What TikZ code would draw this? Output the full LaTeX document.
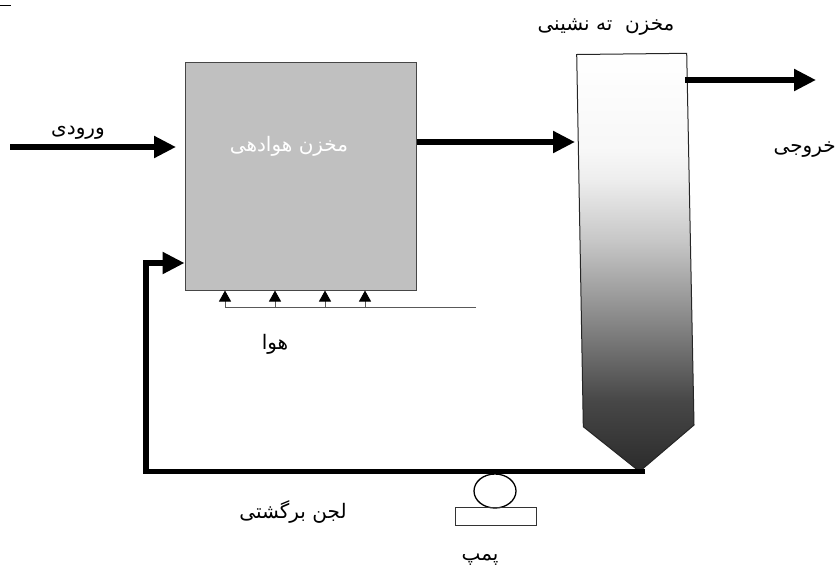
\documentclass[tikz,border=0pt]{standalone}
\usepackage{fontspec}
\usetikzlibrary{arrows.meta,calc,shapes.geometric}
\TeXXeTstate=1
\newfontfamily\arabicfont[Script=Arabic]{DejaVu Sans}
\definecolor{tankgrey}{RGB}{192,192,192}
\definecolor{edgegrey}{RGB}{70,70,70}
\pgfdeclareverticalshading{clarshade}{100bp}{
  rgb(0bp)=(0.17,0.17,0.17);
  rgb(25bp)=(0.17,0.17,0.17);
  rgb(33.5bp)=(0.28,0.28,0.28);
  rgb(43bp)=(0.53,0.53,0.53);
  rgb(52.6bp)=(0.78,0.78,0.78);
  rgb(59.8bp)=(0.93,0.93,0.93);
  rgb(63.4bp)=(0.97,0.97,0.97);
  rgb(75bp)=(1,1,1);
  rgb(100bp)=(1,1,1)}
\tikzset{
  fa/.style={font=\arabicfont\fontsize{20}{23}\selectfont,inner sep=0pt,text=black},
  flow/.style={line width=5.2pt,-{Triangle[length=22pt,width=21pt]}},
  thinflow/.style={line width=1pt,color=black!65,-{Triangle[length=11pt,width=12pt,color=black]}},
  tank/.style={draw=edgegrey,line width=1pt},
}
\begin{document}
\begin{tikzpicture}[x=1pt,y=-1pt]
\useasboundingbox (0,0) rectangle (837,566);
% aeration tank
\node[tank,fill=tankgrey,minimum width=231pt,minimum height=228pt,inner sep=0pt,anchor=north west] (aer) at (184.5,62) {};
\node[fa,text=white] (aerlabel) at (289,146) {\beginR مخزن هوادهی\endR};
% clarifier
\coordinate (c1) at (576.7,54.5);
\coordinate (c2) at (686.7,53.3);
\coordinate (c3) at (694,425);
\coordinate (c4) at (639.5,471.5);
\coordinate (c5) at (583.3,426.7);
\draw[draw=black!85,line width=1pt,shading=clarshade] (c1) -- (c2) -- (c3) -- (c4) -- (c5) -- cycle;
% flows
\coordinate (in0) at (10,147);
\coordinate (in1) at (176,147);
\draw[flow] (in0) -- (in1);
\coordinate (a0) at (aer.north east |- 0,142);
\coordinate (a1) at (575,142);
\draw[flow] (a0) -- (a1);
\coordinate (o0) at (685,80);
\coordinate (o1) at (816,80);
\draw[flow] (o0) -- (o1);
% pump
\node[draw=black,line width=1.3pt,ellipse,minimum width=42pt,minimum height=34pt,inner sep=0pt] (pumpc) at (495,491) {};
\node[draw=black!80,line width=0.8pt,minimum width=81pt,minimum height=18pt,inner sep=0pt] (pumpb) at (495.5,516) {};
% return sludge
\coordinate (r0) at (645,471.5);
\coordinate (r1) at (146,471.5);
\coordinate (r2) at (146,263);
\coordinate (r3) at (184.5,263);
\draw[flow,line join=miter] (r0) -- (r1) -- (r2) -- (r3);
% air
\coordinate (air0) at (476,307);
\coordinate (air1) at (225,307);
\coordinate (t1) at (225,290.5);
\coordinate (b2) at (275,307);
\coordinate (t2) at (275,290.5);
\coordinate (b3) at (325,307);
\coordinate (t3) at (325,290.5);
\coordinate (b4) at (365,307);
\coordinate (t4) at (365,290.5);
\draw[thinflow] (air0) -- (air1) -- (t1);
\draw[thinflow] (b2) -- (t2);
\draw[thinflow] (b3) -- (t3);
\draw[thinflow] (b4) -- (t4);
% small dash
\coordinate (d0) at (0,5);
\coordinate (d1) at (11,5);
\draw[line width=0.8pt] (d0) -- (d1);
% labels
\node[fa] (linlabel) at (78,133) {\beginR ورودی\endR};
\node[fa] (clarlabel) at (606,27) {\beginR مخزن\ \ ته نشینی\endR};
\node[fa,anchor=east] (outlabel) at (836,150) {\beginR خروجی\endR};
\node[fa] (airlabel) at (275,344) {\beginR هوا\endR};
\node[fa] (retlabel) at (293,512) {\beginR لجن برگشتی\endR};
\node[fa] (pumplabel) at (480,560) {\beginR پمپ\endR};
\end{tikzpicture}
\end{document}
